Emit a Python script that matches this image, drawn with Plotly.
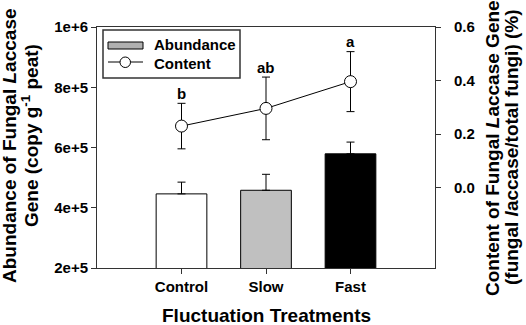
import plotly.graph_objects as go

categories = ["Control", "Slow", "Fast"]
abundance = [4.46e5, 4.58e5, 5.79e5]
abundance_err = [3.9e4, 5.3e4, 3.9e4]
content = [0.230, 0.296, 0.396]
content_err = [0.085, 0.117, 0.112]
letters = ["b", "ab", "a"]
bar_colors = ["white", "#c0c0c0", "black"]
left_ticks = [2e5, 4e5, 6e5, 8e5, 1e6]
left_labels = ["2e+5", "4e+5", "6e+5", "8e+5", "1e+6"]
right_ticks = [0.0, 0.2, 0.4, 0.6]
right_labels = ["0.0", "0.2", "0.4", "0.6"]

FONT = "Liberation Sans, Arial, sans-serif"
AX = "#333333"

fig = go.Figure()
fig.add_trace(go.Bar(
    x=categories, y=abundance, width=0.6,
    marker=dict(color=bar_colors, line=dict(color="black", width=1)),
    error_y=dict(type="data", symmetric=False, array=abundance_err,
                 arrayminus=[0] * len(abundance_err), color="black", thickness=1, width=4),
    showlegend=False, yaxis="y"))
fig.add_trace(go.Scatter(
    x=categories, y=content, mode="lines+markers",
    line=dict(color="black", width=1),
    marker=dict(symbol="circle", size=12, color="white", line=dict(color="black", width=1)),
    error_y=dict(type="data", array=content_err, color="black", thickness=1, width=4),
    showlegend=False, yaxis="y2"))

annotations = []
for c, v, e, t in zip(categories, content, content_err, letters):
    annotations.append(dict(x=c, y=v + e, xref="x", yref="y2", text=t, showarrow=False,
                            yanchor="middle", yshift=10,
                            font=dict(family=FONT, size=15, color="black", weight="bold")))

def txt(x, y, s, size, angle=0, xanchor="center"):
    return dict(x=x, y=y, xref="paper", yref="paper", text=s, showarrow=False,
                textangle=angle, xanchor=xanchor, yanchor="middle",
                font=dict(family=FONT, size=size, color="black", weight="bold"))

# plot area px: x 97..435, y 27..268
def px(xp):
    return (xp - 97) / 338
def py(yp):
    return (268 - yp) / 241

annotations += [
    txt(px(9), py(146), "Abundance of Fungal <i>L</i>accase", 19, -90),
    txt(px(30), py(136), "Gene (copy g<sup>-1</sup> peat)", 19, -90),
    txt(px(492), py(148), "Content of Fungal <i>L</i>accase Gene", 19, -90),
    txt(px(511), py(147), "(fungal <i>l</i>accase/total fungi) (%)", 19, -90),
    txt(px(266), py(315), "Fluctuation Treatments", 19),
    txt(px(152), py(45), "Abundance", 15, 0, "left"),
    txt(px(152), py(63), "Content", 15, 0, "left"),
]

shapes = [
    dict(type="rect", xref="paper", yref="paper", x0=px(103), x1=px(240), y0=py(78), y1=py(30),
         line=dict(color=AX, width=1.5), fillcolor="white", layer="above"),
    dict(type="rect", xref="paper", yref="paper", x0=px(108), x1=px(143), y0=py(49), y1=py(42),
         line=dict(color="black", width=1), fillcolor="#b0b0b0", layer="above"),
    dict(type="line", xref="paper", yref="paper", x0=px(108), x1=px(143), y0=py(62), y1=py(62),
         line=dict(color="black", width=1), layer="above"),
    dict(type="circle", xref="paper", yref="paper", x0=px(120), x1=px(130.5), y0=py(67.5), y1=py(57),
         line=dict(color="black", width=1), fillcolor="white", layer="above"),
]

fig.update_layout(
    width=526, height=325,
    margin=dict(l=97, r=91, t=27, b=57),
    paper_bgcolor="white", plot_bgcolor="white",
    font=dict(family=FONT, size=15, color="black", weight="bold"),
    bargap=0.4,
    xaxis=dict(type="category", range=[-1, 3], showline=True, linecolor=AX, linewidth=1,
               mirror=True, ticks="outside", ticklen=5, tickcolor=AX, showgrid=False,
               zeroline=False,
               tickfont=dict(family=FONT, size=15, color="black", weight="bold")),
    yaxis=dict(range=[2e5, 1e6], tickvals=left_ticks, ticktext=left_labels, showline=True,
               linecolor=AX, linewidth=1, ticks="outside", ticklen=5, tickcolor=AX,
               showgrid=False, zeroline=False,
               tickfont=dict(family=FONT, size=15, color="black", weight="bold")),
    yaxis2=dict(range=[-0.3, 0.6], tickvals=right_ticks, ticktext=right_labels, overlaying="y",
                side="right", showline=True, linecolor=AX, linewidth=1, ticks="outside",
                ticklen=5, tickcolor=AX, showgrid=False, zeroline=False, ticklabelstandoff=10,
                tickfont=dict(family=FONT, size=15, color="black", weight="bold")),
    annotations=annotations,
    shapes=shapes,
    showlegend=False,
)

fig.write_html("out.html", config={"displayModeBar": False},
               post_script="document.body.style.margin='0';document.body.style.overflow='hidden';")
